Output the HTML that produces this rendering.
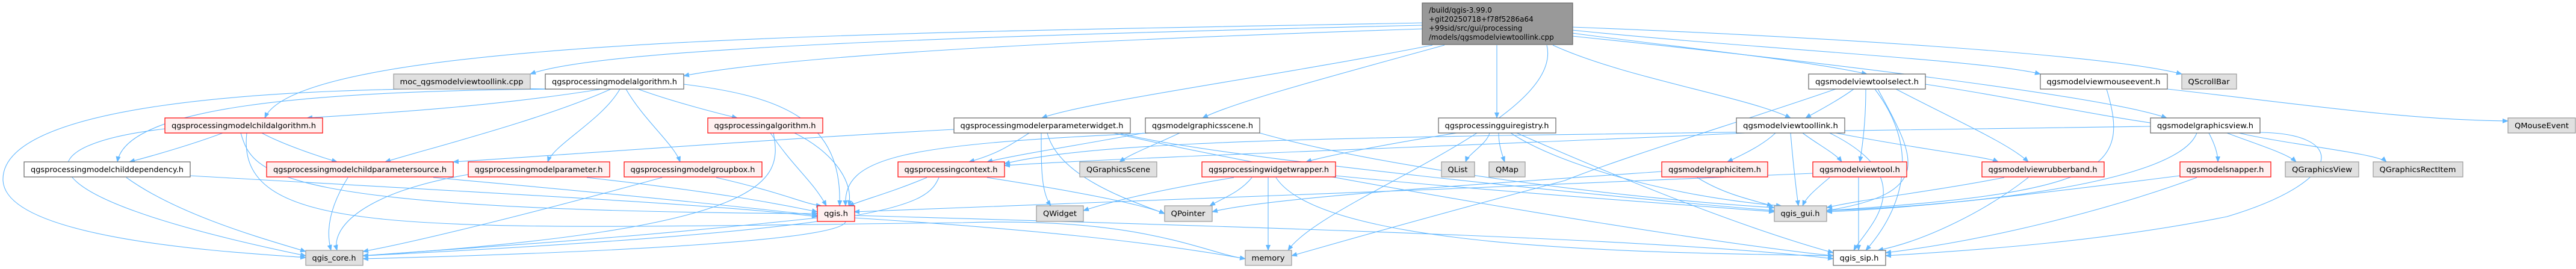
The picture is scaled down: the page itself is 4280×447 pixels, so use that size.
<!DOCTYPE html>
<html><head><meta charset="utf-8"><style>
html,body{margin:0;padding:0;background:#fff;}
svg{display:block;}
text{font-family:"DejaVu Sans","Liberation Sans",sans-serif;font-size:12px;fill:#000;}
.w{fill:#fff;stroke:#666;stroke-width:1.2}
.r{fill:#fff0f0;stroke:#f00;stroke-width:1.2}
.g{fill:#e0e0e0;stroke:#999;stroke-width:1.2}
.t{fill:#999;stroke:#666;stroke-width:1.2}
.e path{fill:none;stroke:#63b8ff;stroke-width:1.1;marker-end:url(#a)}
</style></head><body>
<svg width="4280" height="447" viewBox="0 0 4280 447" xmlns="http://www.w3.org/2000/svg">
<defs><marker id="a" markerWidth="10" markerHeight="8" refX="9" refY="4" orient="auto" markerUnits="userSpaceOnUse"><path d="M0,0 L10,4 L0,8 z" fill="#63b8ff"/></marker></defs>
<g class="e">
<!-- from top node -->
<path d="M2363 42 C1600 60 1000 80 881 123"/>
<path d="M2363 48 C1700 70 1300 95 1136 126"/>
<path d="M2363 38 C1500 55 500 60 440 196"/>
<path d="M2380 75 C2100 130 1800 170 1731 196"/>
<path d="M2400 75 C2200 130 2050 170 1998 196"/>
<path d="M2487 75 L2487 196"/>
<path d="M2580 75 C2700 130 2900 160 2975 196"/>
<path d="M2612 55 C2800 80 3000 100 3102 123"/>
<path d="M2612 50 C2900 80 3300 100 3390 123"/>
<path d="M2612 45 C3000 60 3500 90 3625 123"/>
<path d="M2612 60 C3000 100 3500 160 3600 196"/>
<path d="M2570 75 C2600 200 2200 330 2140 416"/>
<!-- PMA -->
<path d="M1000 148 C800 180 600 190 510 196"/>
<path d="M940 148 C500 150 210 180 195 269"/>
<path d="M920 148 C400 140 0 180 5 300 C10 400 400 420 508 428"/>
<path d="M1015 148 C900 200 700 250 640 269"/>
<path d="M1030 148 C1000 200 920 240 910 269"/>
<path d="M1040 148 C1070 200 1120 240 1130 269"/>
<path d="M1060 148 C1120 170 1200 190 1225 196"/>
<path d="M1136 140 C1300 160 1400 200 1395 342"/>
<!-- PMCA -->
<path d="M370 221 C320 240 250 260 215 269"/>
<path d="M435 221 C470 240 530 260 560 269"/>
<path d="M400 221 C420 290 450 350 1358 355"/>
<path d="M274 214 C50 240 0 320 508 425"/>
<path d="M410 221 C390 400 700 380 1600 370 C1900 360 2000 420 2069 430"/>
<!-- PA -->
<path d="M1280 221 C1320 280 1350 300 1373 342"/>
<path d="M1285 221 C1300 300 1290 380 603 425"/>
<path d="M1320 221 C1380 250 1420 300 1410 342"/>
<!-- row3 to qgis/core -->
<path d="M316 292 C800 320 1200 340 1358 360"/>
<path d="M210 295 C300 360 450 400 508 418"/>
<path d="M720 295 C1000 320 1200 340 1358 358"/>
<path d="M578 295 C550 340 540 380 550 416"/>
<path d="M975 295 C1200 320 1300 340 1358 352"/>
<path d="M778 290 C600 320 550 380 560 416"/>
<path d="M1190 295 C1300 320 1340 340 1365 342"/>
<path d="M1100 295 C900 350 700 400 603 418"/>
<path d="M1358 362 C1000 400 800 410 603 425"/>
<path d="M1405 368 C1400 400 1000 420 603 430"/>
<path d="M1419 362 C1700 380 1900 400 2069 430"/>
<path d="M1419 358 C2200 380 2800 400 3046 430"/>
<!-- paramwidget -->
<path d="M1585 215 C1300 230 900 260 753 269"/>
<path d="M1710 221 C1680 240 1660 255 1610 269"/>
<path d="M1730 221 C1730 280 1730 320 1746 342"/>
<path d="M1740 221 C1760 300 1900 340 1935 355"/>
<path d="M1860 221 C2000 260 2700 330 2948 350"/>
<path d="M1850 221 C2100 280 2800 400 3046 425"/>
<!-- scene -->
<path d="M1900 221 C1800 240 1700 255 1640 269"/>
<path d="M1960 221 C1920 240 1880 255 1860 269"/>
<path d="M2093 221 C2300 280 2700 330 2948 345"/>
<path d="M1910 221 C1500 240 1400 260 1405 342"/>
<!-- guireg -->
<path d="M2420 221 C2300 240 2200 260 2170 269"/>
<path d="M2475 221 C2470 240 2440 255 2435 269"/>
<path d="M2490 221 C2490 240 2495 255 2500 269"/>
<path d="M2510 221 C2600 280 2800 330 2960 342"/>
<path d="M2520 221 C2700 300 2900 380 3046 420"/>
<!-- context -->
<path d="M1540 295 C1480 320 1440 330 1410 342"/>
<path d="M1560 295 C1540 340 1500 380 603 425"/>
<path d="M1640 295 C1800 320 1900 340 1935 355"/>
<!-- widgetwrapper -->
<path d="M2050 295 C1900 320 1830 340 1800 350"/>
<path d="M2080 295 C2060 320 2030 330 2010 342"/>
<path d="M2107 295 L2107 416"/>
<path d="M2120 295 C2200 420 2800 420 3046 425"/>
<path d="M2219 292 C2500 320 2800 340 2948 352"/>
<!-- toollink -->
<path d="M2900 221 C2500 240 1900 260 1669 275"/>
<path d="M2950 221 C2930 240 2900 255 2870 269"/>
<path d="M2995 221 C3020 240 3050 255 3060 269"/>
<path d="M3050 221 C3200 250 3300 260 3320 269"/>
<path d="M2975 221 C2980 280 2985 320 2988 342"/>
<path d="M3040 221 C3200 300 3100 380 3080 416"/>
<!-- toolselect -->
<path d="M3080 148 C3050 170 3010 190 3000 196"/>
<path d="M3100 148 C3100 200 3095 240 3090 269"/>
<path d="M3150 148 C3250 200 3340 240 3370 269"/>
<path d="M3120 148 C3180 260 3220 320 3035 350"/>
<path d="M3115 148 C3200 260 3150 360 3100 416"/>
<path d="M3050 148 C2900 200 2700 260 2600 300 C2300 380 2200 410 2146 425"/>
<path d="M3199 140 C3400 170 3600 220 3750 220 C3900 220 3900 300 3700 360 C3500 400 3300 415 3133 425"/>
<!-- mouseevent -->
<path d="M3601 148 C3800 170 4000 200 4167 201"/>
<path d="M3500 148 C3540 280 3500 320 3035 350"/>
<!-- gview -->
<path d="M3573 210 C3300 215 2800 220 2500 225 C2100 232 1800 240 1669 272"/>
<path d="M3650 221 C3620 300 3300 340 3035 350"/>
<path d="M3670 221 C3680 240 3685 255 3685 269"/>
<path d="M3700 221 C3750 240 3800 255 3815 269"/>
<path d="M3720 221 C3800 240 3950 255 3965 269"/>
<!-- row3 right -->
<path d="M2820 295 C2860 320 2900 330 2945 342"/>
<path d="M2761 285 C2400 310 2100 330 2014 352"/>
<path d="M3040 295 C3010 320 3000 330 2995 342"/>
<path d="M3088 295 L3088 416"/>
<path d="M3012 288 C2500 310 1800 340 1419 352"/>
<path d="M3330 295 C3200 320 3100 330 3035 345"/>
<path d="M3370 295 C3300 350 3200 400 3120 416"/>
<path d="M3622 292 C3400 320 3200 345 3035 352"/>
<path d="M3650 295 C3500 350 3300 400 3133 420"/>
</g>
<!-- nodes -->
<rect class="t" x="2363" y="5" width="250" height="69"/>
<text x="2374" y="21">/build/qgis-3.99.0</text>
<text x="2374" y="36">+git20250718+f78f5286a64</text>
<text x="2374" y="51">+99sid/src/gui/processing</text>
<text x="2374" y="66">/models/qgsmodelviewtoollink.cpp</text>

<rect class="g" x="654" y="123" width="227" height="25"/><text x="767" y="140" text-anchor="middle" textLength="205" lengthAdjust="spacingAndGlyphs">moc_qgsmodelviewtoollink.cpp</text>
<rect class="w" x="906" y="123" width="230" height="25"/><text x="1021" y="140" text-anchor="middle" textLength="208" lengthAdjust="spacingAndGlyphs">qgsprocessingmodelalgorithm.h</text>
<rect class="w" x="3005" y="123" width="194" height="25"/><text x="3102" y="140" text-anchor="middle" textLength="172" lengthAdjust="spacingAndGlyphs">qgsmodelviewtoolselect.h</text>
<rect class="w" x="3390" y="123" width="211" height="25"/><text x="3495" y="140" text-anchor="middle" textLength="189" lengthAdjust="spacingAndGlyphs">qgsmodelviewmouseevent.h</text>
<rect class="g" x="3625" y="123" width="91" height="25"/><text x="3670" y="140" text-anchor="middle" textLength="69" lengthAdjust="spacingAndGlyphs">QScrollBar</text>

<rect class="r" x="274" y="196" width="262" height="25"/><text x="405" y="213" text-anchor="middle" textLength="240" lengthAdjust="spacingAndGlyphs">qgsprocessingmodelchildalgorithm.h</text>
<rect class="r" x="1176" y="196" width="191" height="25"/><text x="1271" y="213" text-anchor="middle" textLength="169" lengthAdjust="spacingAndGlyphs">qgsprocessingalgorithm.h</text>
<rect class="w" x="1585" y="196" width="293" height="25"/><text x="1731" y="213" text-anchor="middle" textLength="271" lengthAdjust="spacingAndGlyphs">qgsprocessingmodelerparameterwidget.h</text>
<rect class="w" x="1903" y="196" width="190" height="25"/><text x="1998" y="213" text-anchor="middle" textLength="168" lengthAdjust="spacingAndGlyphs">qgsmodelgraphicsscene.h</text>
<rect class="w" x="2390" y="196" width="195" height="25"/><text x="2487" y="213" text-anchor="middle" textLength="173" lengthAdjust="spacingAndGlyphs">qgsprocessingguiregistry.h</text>
<rect class="w" x="2885" y="196" width="180" height="25"/><text x="2975" y="213" text-anchor="middle" textLength="158" lengthAdjust="spacingAndGlyphs">qgsmodelviewtoollink.h</text>
<rect class="w" x="3573" y="196" width="182" height="25"/><text x="3664" y="213" text-anchor="middle" textLength="160" lengthAdjust="spacingAndGlyphs">qgsmodelgraphicsview.h</text>
<rect class="g" x="4167" y="196" width="112" height="25"/><text x="4223" y="213" text-anchor="middle" textLength="90" lengthAdjust="spacingAndGlyphs">QMouseEvent</text>

<rect class="w" x="40" y="269" width="276" height="25"/><text x="178" y="286" text-anchor="middle" textLength="254" lengthAdjust="spacingAndGlyphs">qgsprocessingmodelchilddependency.h</text>
<rect class="r" x="443" y="269" width="310" height="25"/><text x="598" y="286" text-anchor="middle" textLength="288" lengthAdjust="spacingAndGlyphs">qgsprocessingmodelchildparametersource.h</text>
<rect class="r" x="778" y="269" width="235" height="25"/><text x="895" y="286" text-anchor="middle" textLength="213" lengthAdjust="spacingAndGlyphs">qgsprocessingmodelparameter.h</text>
<rect class="r" x="1037" y="269" width="229" height="25"/><text x="1151" y="286" text-anchor="middle" textLength="207" lengthAdjust="spacingAndGlyphs">qgsprocessingmodelgroupbox.h</text>
<rect class="r" x="1492" y="269" width="177" height="25"/><text x="1580" y="286" text-anchor="middle" textLength="155" lengthAdjust="spacingAndGlyphs">qgsprocessingcontext.h</text>
<rect class="g" x="1794" y="269" width="128" height="25"/><text x="1858" y="286" text-anchor="middle" textLength="106" lengthAdjust="spacingAndGlyphs">QGraphicsScene</text>
<rect class="r" x="1997" y="269" width="222" height="25"/><text x="2108" y="286" text-anchor="middle" textLength="200" lengthAdjust="spacingAndGlyphs">qgsprocessingwidgetwrapper.h</text>
<rect class="g" x="2395" y="269" width="55" height="25"/><text x="2422" y="286" text-anchor="middle" textLength="33" lengthAdjust="spacingAndGlyphs">QList</text>
<rect class="g" x="2474" y="269" width="60" height="25"/><text x="2504" y="286" text-anchor="middle" textLength="38" lengthAdjust="spacingAndGlyphs">QMap</text>
<rect class="r" x="2761" y="269" width="176" height="25"/><text x="2849" y="286" text-anchor="middle" textLength="154" lengthAdjust="spacingAndGlyphs">qgsmodelgraphicitem.h</text>
<rect class="r" x="3012" y="269" width="156" height="25"/><text x="3090" y="286" text-anchor="middle" textLength="134" lengthAdjust="spacingAndGlyphs">qgsmodelviewtool.h</text>
<rect class="r" x="3293" y="269" width="203" height="25"/><text x="3394" y="286" text-anchor="middle" textLength="181" lengthAdjust="spacingAndGlyphs">qgsmodelviewrubberband.h</text>
<rect class="r" x="3622" y="269" width="151" height="25"/><text x="3697" y="286" text-anchor="middle" textLength="129" lengthAdjust="spacingAndGlyphs">qgsmodelsnapper.h</text>
<rect class="g" x="3797" y="269" width="122" height="25"/><text x="3858" y="286" text-anchor="middle" textLength="100" lengthAdjust="spacingAndGlyphs">QGraphicsView</text>
<rect class="g" x="3943" y="269" width="149" height="25"/><text x="4017" y="286" text-anchor="middle" textLength="127" lengthAdjust="spacingAndGlyphs">QGraphicsRectItem</text>

<rect class="r" x="1358" y="342" width="62" height="26"/><text x="1389" y="359" text-anchor="middle" textLength="40" lengthAdjust="spacingAndGlyphs">qgis.h</text>
<rect class="g" x="1722" y="342" width="78" height="26"/><text x="1761" y="359" text-anchor="middle" textLength="56" lengthAdjust="spacingAndGlyphs">QWidget</text>
<rect class="g" x="1935" y="342" width="79" height="26"/><text x="1974" y="359" text-anchor="middle" textLength="57" lengthAdjust="spacingAndGlyphs">QPointer</text>
<rect class="g" x="2948" y="342" width="87" height="26"/><text x="2991" y="359" text-anchor="middle" textLength="65" lengthAdjust="spacingAndGlyphs">qgis_gui.h</text>

<rect class="g" x="508" y="416" width="95" height="25"/><text x="555" y="433" text-anchor="middle" textLength="73" lengthAdjust="spacingAndGlyphs">qgis_core.h</text>
<rect class="g" x="2069" y="416" width="77" height="25"/><text x="2107" y="433" text-anchor="middle" textLength="55" lengthAdjust="spacingAndGlyphs">memory</text>
<rect class="w" x="3046" y="416" width="87" height="25"/><text x="3089" y="433" text-anchor="middle" textLength="65" lengthAdjust="spacingAndGlyphs">qgis_sip.h</text>
</svg>
</body></html>
